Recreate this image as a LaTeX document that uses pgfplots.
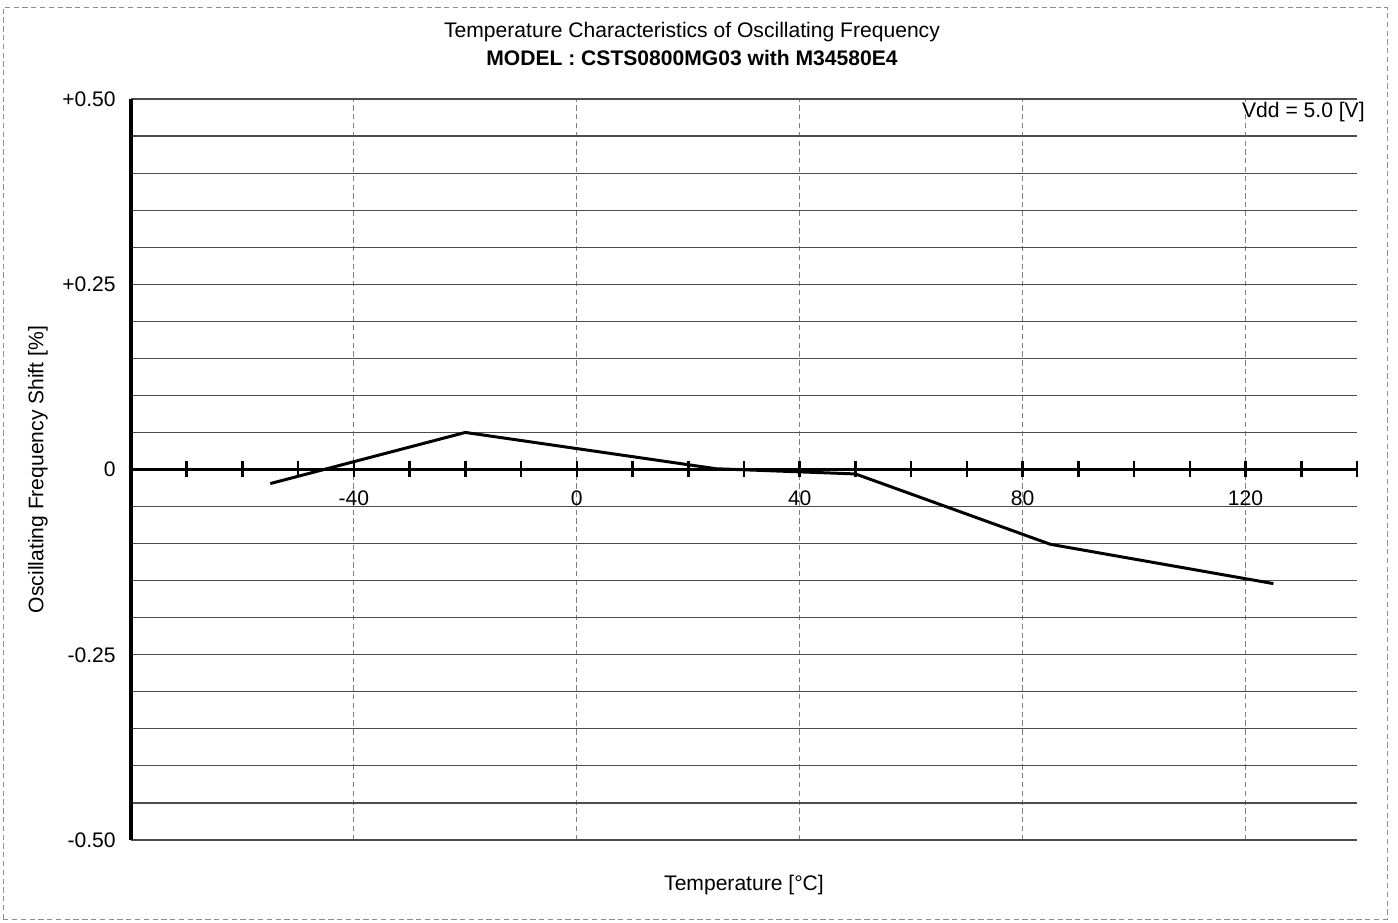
\documentclass[border=0pt]{standalone}
\usepackage{fontspec}
\setmainfont{Liberation Sans}
\usepackage{pgfplots}
\pgfplotsset{compat=1.18}
\begin{document}
\fontsize{12}{14}\selectfont
\begin{tikzpicture}
\begin{axis}[
    scale only axis,
    width=245.2mm, height=148.2mm,
    xmin=-80, xmax=140,
    ymin=-0.5, ymax=0.5,
    axis x line=middle, axis y line=left,
    x axis line style={-, line width=2.2pt},
    y axis line style={-, line width=2.2pt},
    hide obscured x ticks=false, hide obscured y ticks=false,
    xtick={-40,0,40,80,120},
    xticklabels={-40,0,40,80,120},
    minor xtick={-70,-60,-50,-30,-20,-10,10,20,30,50,60,70,90,100,110,130,140},
    ytick={-0.5,-0.25,0,0.25,0.5},
    yticklabels={-0.50,-0.25,0,+0.25,+0.50},
    minor ytick={-0.45,-0.4,-0.35,-0.3,-0.2,-0.15,-0.1,-0.05,0.05,0.1,0.15,0.2,0.3,0.35,0.4,0.45},
    tick align=center,
    major tick length=3.2mm, minor tick length=3.2mm,
    x tick style={black, line width=1.4pt},
    y tick style={draw=none},
    xmajorgrids, ymajorgrids, yminorgrids,
    major x grid style={densely dashed, black!50, line width=0.5pt},
    major y grid style={black!70, line width=0.65pt},
    minor y grid style={black!70, line width=0.65pt},
    tick label style={font=\fontsize{12}{14}\selectfont},
    x tick label style={yshift=-1.2mm},
    clip=false,
]

% measured shift vs temperature
\addplot[black, line width=1.7pt, mark=none] coordinates {
    (-55,-0.019) (-20,0.050) (25,0.001) (50,-0.006) (85,-0.101) (125,-0.154)
};

\node[inner sep=0, anchor=north east, xshift=1.6mm, yshift=-0.5mm]
    at (rel axis cs:1,1) {Vdd = 5.0 [V]};
\node at (rel axis cs:0.4576,1) [yshift=13.4mm] {Temperature Characteristics of Oscillating Frequency};
\node at (rel axis cs:0.4576,1) [yshift=8.3mm] {\bfseries MODEL : CSTS0800MG03 with M34580E4};
\node at (rel axis cs:0.5,0) [yshift=-9mm] {Temperature [°C]};
\node[xshift=-18.6mm, rotate=90] at (rel axis cs:0,0.5) {Oscillating Frequency Shift [\%]};

\path (rel axis cs:0,0) ++(-26.2mm,-16.6mm) coordinate (bl);
\path (rel axis cs:1,1) ++(8.2mm,19.8mm) coordinate (tr);
\path (rel axis cs:0,0) ++(-25.6mm,-15.8mm) coordinate (fbl);
\path (rel axis cs:1,1) ++(6mm,18.4mm) coordinate (ftr);
\end{axis}
\path (bl) rectangle (tr);
\draw[black!45, line width=0.4pt, densely dashed] (fbl) rectangle (ftr);
\end{tikzpicture}
\end{document}
